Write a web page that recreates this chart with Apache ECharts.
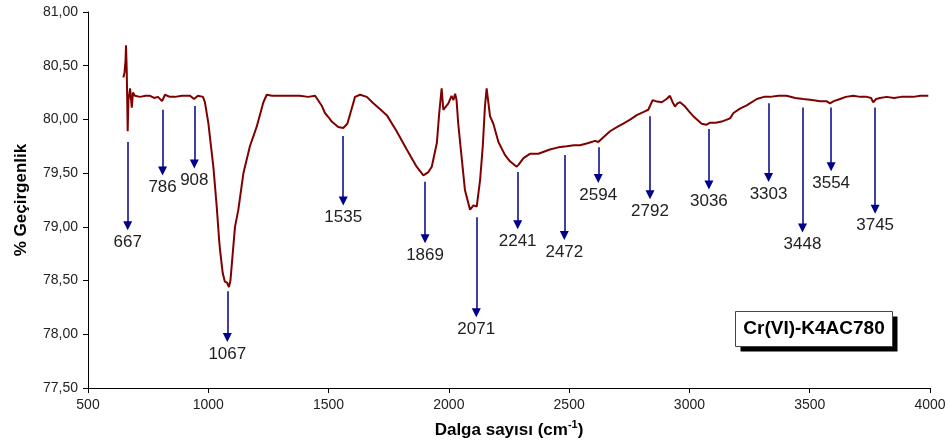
<!DOCTYPE html>
<html>
<head>
<meta charset="utf-8">
<title>Cr(VI)-K4AC780 FTIR</title>
<script src="https://cdn.jsdelivr.net/npm/echarts@6/dist/echarts.min.js"></script>
<style>
  html, body { margin: 0; padding: 0; background: #fff; }
  #chart { width: 949px; height: 446px; }
</style>
</head>
<body>
<div id="chart"></div>
<script>
// Spectrum: wavenumber (cm-1) and transmittance (%)
const waveNumbers = [
  647, 652, 656, 658, 661, 663, 665, 668, 675, 682, 687, 695, 716, 740, 758, 775, 791, 808, 820, 840,
  862, 890, 924, 941, 957, 978, 986, 1000, 1021, 1035, 1045, 1049, 1060, 1069, 1078, 1086, 1092, 1097,
  1111, 1125, 1146, 1173, 1201, 1229, 1243, 1265, 1300, 1340, 1380, 1415, 1444, 1471, 1485, 1500, 1513,
  1540, 1561, 1578, 1596, 1610, 1631, 1659, 1686, 1712, 1742, 1783, 1825, 1866, 1894, 1915, 1929, 1950,
  1960, 1970, 1977, 1998, 2011, 2019, 2026, 2032, 2039, 2053, 2067, 2081, 2088, 2095, 2102, 2116, 2130,
  2141, 2150, 2157, 2163, 2171, 2185, 2206, 2233, 2254, 2282, 2290, 2310, 2337, 2372, 2420, 2455, 2490,
  2520, 2545, 2580, 2608, 2621, 2640, 2670, 2700, 2725, 2755, 2781, 2810, 2829, 2847, 2860, 2885, 2905,
  2919, 2930, 2940, 2950, 2961, 2982, 3000, 3016, 3051, 3070, 3086, 3110, 3134, 3169, 3183, 3210, 3238,
  3280, 3310, 3335, 3370, 3404, 3440, 3473, 3510, 3543, 3570, 3584, 3600, 3626, 3650, 3681, 3710, 3737,
  3755, 3764, 3776, 3792, 3820, 3850, 3880, 3903, 3930, 3960, 3993
];
const transmittance = [
  80.39, 80.44, 80.55, 80.69, 80.46, 80.18, 79.89, 80.18, 80.29, 80.11, 80.25, 80.22, 80.21, 80.22, 80.22, 80.20, 80.21, 80.17, 80.23, 80.21,
  80.21, 80.22, 80.22, 80.19, 80.22, 80.21, 80.16, 79.97, 79.56, 79.19, 78.88, 78.78, 78.57, 78.49, 78.48, 78.44, 78.50, 78.63,
  79.00, 79.16, 79.50, 79.75, 79.93, 80.16, 80.23, 80.22, 80.22, 80.22, 80.22, 80.21, 80.22, 80.13, 80.06, 80.02, 79.98,
  79.93, 79.92, 79.96, 80.10, 80.21, 80.23, 80.21, 80.15, 80.10, 80.04, 79.89, 79.72, 79.56, 79.48, 79.51, 79.56, 79.78,
  80.06, 80.29, 80.09, 80.15, 80.22, 80.18, 80.24, 80.18, 79.96, 79.65, 79.34, 79.22, 79.16, 79.18, 79.20, 79.19, 79.44,
  79.75, 80.12, 80.29, 80.18, 80.03, 79.96, 79.79, 79.67, 79.61, 79.56, 79.58, 79.64, 79.68, 79.68, 79.72, 79.74, 79.75,
  79.76, 79.76, 79.78, 79.80, 79.79, 79.83, 79.89, 79.93, 79.96, 80.00, 80.04, 80.07, 80.09, 80.18, 80.17, 80.16, 80.19,
  80.22, 80.16, 80.12, 80.15, 80.16, 80.12, 80.07, 80.03, 79.96, 79.95, 79.97, 79.97, 79.98, 80.01, 80.06, 80.10, 80.13,
  80.19, 80.21, 80.21, 80.22, 80.22, 80.20, 80.19, 80.18, 80.17, 80.17, 80.15, 80.17, 80.19, 80.21, 80.22, 80.21, 80.21,
  80.20, 80.16, 80.19, 80.20, 80.21, 80.20, 80.21, 80.21, 80.21, 80.22, 80.22
];

// Band annotations: label, arrow x position, arrow start and arrow end (transmittance)
const bandLabels = ['667', '786', '908', '1067', '1535', '1869', '2071', '2241', '2472', '2594', '2792', '3036', '3303', '3448', '3554', '3745'];
const bandX      = [665, 810, 942, 1079, 1561, 1901, 2114, 2286, 2480, 2621, 2836, 3081, 3329, 3470, 3589, 3772];
const bandFrom   = [79.79, 80.09, 80.125, 78.40, 79.845, 79.42, 79.09, 79.51, 79.67, 79.74, 80.03, 79.91, 80.15, 80.11, 80.11, 80.11];
const bandTo     = [79.01, 79.52, 79.585, 77.97, 79.24, 78.89, 78.20, 79.02, 78.92, 79.45, 79.30, 79.39, 79.46, 78.99, 79.56, 79.165];

// Axis ranges
const xMin = 500, xMax = 4000, xStep = 500;
const yMin = 77.5, yMax = 81, yStep = 0.5;

const sampleName = 'Cr(VI)-K4AC780';

const FONT = '"Liberation Sans", Arial, sans-serif';

const spectrum = waveNumbers.map((w, i) => [w, transmittance[i]]);
const bandLines = bandLabels.map((lab, i) => [
  { name: lab, coord: [bandX[i], bandFrom[i]] },
  { coord: [bandX[i], bandTo[i]] }
]);

const chart = echarts.init(document.getElementById('chart'), null, { renderer: 'canvas' });

chart.setOption({
  animation: false,
  backgroundColor: '#ffffff',
  textStyle: { fontFamily: FONT },
  grid: { left: 88, right: 19, top: 12, bottom: 58, containLabel: false },
  xAxis: {
    type: 'value',
    min: xMin, max: xMax, interval: xStep,
    name: '{b|Dalga sayısı (cm}{s|-1}{b|)}',
    nameLocation: 'middle',
    nameGap: 31,
    nameTextStyle: {
      rich: {
        b: { fontSize: 17, fontWeight: 'bold', color: '#000', fontFamily: FONT, lineHeight: 22 },
        s: { fontSize: 11, fontWeight: 'bold', color: '#000', fontFamily: FONT, verticalAlign: 'top', lineHeight: 12 }
      }
    },
    axisLine: { lineStyle: { color: '#000', width: 1 } },
    axisTick: { show: true, inside: false, length: 5, lineStyle: { color: '#000' } },
    axisLabel: { fontSize: 14, color: '#222', margin: 10, fontFamily: FONT, formatter: v => String(v) },
    splitLine: { show: false }
  },
  yAxis: {
    type: 'value',
    min: yMin, max: yMax, interval: yStep,
    name: '% Geçirgenlik',
    nameLocation: 'middle',
    nameRotate: 90,
    nameGap: 58,
    nameTextStyle: { fontSize: 17, fontWeight: 'bold', color: '#000', fontFamily: FONT },
    axisLine: { show: true, lineStyle: { color: '#000', width: 1 } },
    axisTick: { show: true, inside: false, length: 5, lineStyle: { color: '#000' } },
    axisLabel: {
      fontSize: 14, color: '#222', margin: 10, fontFamily: FONT,
      formatter: v => v.toFixed(2).replace('.', ',')
    },
    splitLine: { show: false }
  },
  series: [{
    type: 'line',
    data: spectrum,
    showSymbol: false,
    smooth: false,
    lineStyle: { color: '#800000', width: 2 },
    itemStyle: { color: '#800000' },
    emphasis: { disabled: true },
    markLine: {
      silent: true,
      animation: false,
      symbol: ['none', 'triangle'],
      symbolSize: 9,
      precision: 0,
      lineStyle: { color: '#00008b', width: 1.5, type: 'solid' },
      label: {
        show: true,
        position: 'end',
        distance: 8,
        formatter: '{b}',
        fontSize: 17,
        color: '#222',
        fontFamily: FONT
      },
      emphasis: { disabled: true },
      data: bandLines
    }
  }],
  graphic: [{
    type: 'group',
    left: 735,
    top: 311,
    children: [
      { type: 'rect', shape: { x: 5, y: 5, width: 157, height: 35 }, style: { fill: '#000' } },
      { type: 'rect', shape: { x: 0, y: 0, width: 157, height: 35 }, style: { fill: '#fff', stroke: '#444', lineWidth: 1 } },
      {
        type: 'text',
        style: {
          x: 78.5, y: 17.5, text: sampleName,
          fontSize: 19, fontWeight: 'bold', fill: '#000', fontFamily: FONT,
          align: 'center', verticalAlign: 'middle'
        }
      }
    ]
  }]
});
</script>
</body>
</html>
